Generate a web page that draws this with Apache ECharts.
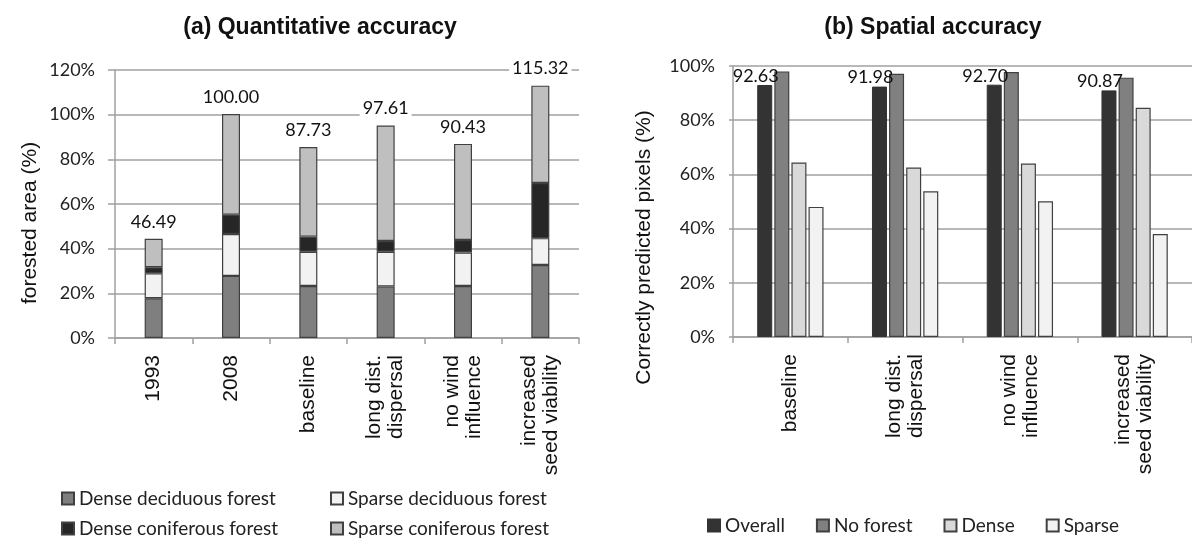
<!DOCTYPE html>
<html>
<head>
<meta charset="utf-8">
<script src="https://cdn.jsdelivr.net/npm/echarts@6/dist/echarts.min.js"></script>
<style>html,body{margin:0;padding:0;background:#fff;}#c{width:1192px;height:539px;}</style>
</head>
<body>
<div id="c"></div>
<script>
// ---- Panel (a): Quantitative accuracy ----
const catsA = ['1993', '2008', 'baseline', 'long dist.\ndispersal', 'no wind\ninfluence', 'increased\nseed viability'];
const denseDeciduous  = [17.8, 27.8, 23.3, 23.1, 23.3, 32.7];
const sparseDeciduous = [11.2, 18.8, 15.3, 15.5, 15.0, 12.0];
const denseConiferous = [2.7, 8.6, 6.8, 4.8, 5.6, 24.7];
const sparseConiferous = [12.7, 45.1, 40.1, 51.7, 43.0, 43.6];
const labelsA = ['46.49', '100.00', '87.73', '97.61', '90.43', '115.32'];
const ticksA = [0, 20, 40, 60, 80, 100, 120];

// ---- Panel (b): Spatial accuracy ----
const catsB = ['baseline', 'long dist.\ndispersal', 'no wind\ninfluence', 'increased\nseed viability'];
const overall  = [93.0, 92.4, 93.1, 91.0];
const noForest = [98.0, 97.1, 97.8, 95.7];
const dense    = [64.4, 62.5, 64.0, 84.6];
const sparse   = [48.0, 53.8, 50.1, 38.0];
const labelsB = ['92.63', '91.98', '92.70', '90.87'];
const ticksB = [0, 20, 40, 60, 80, 100];

const CAL = 'Lato, "Open Sans", sans-serif';
const ARI = '"Liberation Sans", Arial, sans-serif';
const GRID = '#a0a0a0';
const BORDER = '#404040';

function barStyle(color) {
  return { color: color, borderColor: BORDER, borderWidth: 1.2 };
}

const chart = echarts.init(document.getElementById('c'), null, { renderer: 'canvas' });

const yCommon = (ticks, margin, tickLen) => ({
  type: 'value',
  min: ticks[0],
  max: ticks[ticks.length - 1],
  interval: ticks[1] - ticks[0],
  axisLine: { show: true, lineStyle: { color: GRID, width: 1.5 } },
  axisTick: { show: true, length: tickLen, lineStyle: { color: GRID, width: 1.5 } },
  splitLine: { show: true, lineStyle: { color: GRID, width: 1.5 } },
  axisLabel: { formatter: '{value}%', color: '#222', fontFamily: CAL, fontSize: 18, margin: margin }
});

const xCommon = (cats, gridIndex) => ({
  type: 'category',
  gridIndex: gridIndex,
  data: cats,
  axisLine: { show: true, lineStyle: { color: GRID, width: 1.5 } },
  axisTick: { show: true, length: 6, lineStyle: { color: GRID, width: 1.5 } },
  axisLabel: { rotate: 90, color: '#111', fontFamily: ARI, fontSize: 21, margin: 17, lineHeight: 22, interval: 0 }
});

const legendText = { fontFamily: CAL, fontSize: 19, color: '#222' };
const legBase = { icon: 'rect', itemWidth: 12, itemHeight: 12, itemGap: 31, textStyle: legendText, padding: 0 };

const option = {
  animation: false,
  backgroundColor: '#fff',
  title: [
    { text: '(a) Quantitative accuracy', left: 315, top: 11, textAlign: 'center',
      textStyle: { fontFamily: ARI, fontWeight: 'bold', fontSize: 23, color: '#111' } },
    { text: '(b) Spatial accuracy', left: 928, top: 11, textAlign: 'center',
      textStyle: { fontFamily: ARI, fontWeight: 'bold', fontSize: 23, color: '#111' } }
  ],
  grid: [
    { left: 115, top: 70, width: 464, height: 268 },
    { left: 733, top: 66, width: 467, height: 271 }
  ],
  xAxis: [xCommon(catsA, 0), xCommon(catsB, 1)],
  yAxis: [
    Object.assign(yCommon(ticksA, 20, 7), {
      gridIndex: 0, name: 'forested area (%)', nameLocation: 'middle', nameGap: 74,
      nameTextStyle: { fontFamily: ARI, fontSize: 21, color: '#111', padding: [0, 38, 0, 0] }
    }),
    Object.assign(yCommon(ticksB, 18, 4), {
      gridIndex: 1, name: 'Correctly predicted pixels (%)', nameLocation: 'middle', nameGap: 78,
      nameTextStyle: { fontFamily: ARI, fontSize: 21, color: '#111', padding: [0, 92, 0, 0] }
    })
  ],
  legend: [
    Object.assign({}, legBase, { data: ['Dense deciduous forest'], left: 61, top: 489 }),
    Object.assign({}, legBase, { data: ['Sparse deciduous forest'], left: 330, top: 489 }),
    Object.assign({}, legBase, { data: ['Dense coniferous forest'], left: 61, top: 519 }),
    Object.assign({}, legBase, { data: ['Sparse coniferous forest'], left: 330, top: 519 }),
    Object.assign({}, legBase, { data: ['Overall', 'No forest', 'Dense', 'Sparse'], left: 707, top: 516 })
  ],
  series: [
    { name: 'Dense deciduous forest', type: 'bar', stack: 'a', xAxisIndex: 0, yAxisIndex: 0, barWidth: 18, data: denseDeciduous, itemStyle: barStyle('#7f7f7f') },
    { name: 'Sparse deciduous forest', type: 'bar', stack: 'a', xAxisIndex: 0, yAxisIndex: 0, barWidth: 18, data: sparseDeciduous, itemStyle: barStyle('#f2f2f2') },
    { name: 'Dense coniferous forest', type: 'bar', stack: 'a', xAxisIndex: 0, yAxisIndex: 0, barWidth: 18, data: denseConiferous, itemStyle: barStyle('#262626') },
    { name: 'Sparse coniferous forest', type: 'bar', stack: 'a', xAxisIndex: 0, yAxisIndex: 0, barWidth: 18, data: sparseConiferous, itemStyle: barStyle('#bfbfbf'),
      label: { show: true, position: 'top', distance: 8, formatter: p => labelsA[p.dataIndex],
        fontFamily: CAL, fontSize: 18, color: '#111', backgroundColor: '#fff', padding: [0, 3] } },
    { name: 'Overall', type: 'bar', xAxisIndex: 1, yAxisIndex: 1, barWidth: 15, barGap: '14%', data: overall,
      itemStyle: { color: '#333333', borderColor: '#333333', borderWidth: 1 },
      label: { show: true, position: 'top', distance: 0, offset: [-9, 0], formatter: p => labelsB[p.dataIndex],
        fontFamily: CAL, fontSize: 18, color: '#111' }, z: 3 },
    { name: 'No forest', type: 'bar', xAxisIndex: 1, yAxisIndex: 1, barWidth: 15, barGap: '14%', data: noForest, itemStyle: barStyle('#808080'), z: 2 },
    { name: 'Dense', type: 'bar', xAxisIndex: 1, yAxisIndex: 1, barWidth: 15, barGap: '14%', data: dense, itemStyle: barStyle('#d9d9d9'), z: 2 },
    { name: 'Sparse', type: 'bar', xAxisIndex: 1, yAxisIndex: 1, barWidth: 15, barGap: '14%', data: sparse, itemStyle: barStyle('#f2f2f2'), z: 2 }
  ]
};
chart.setOption(option);
</script>
</body>
</html>
